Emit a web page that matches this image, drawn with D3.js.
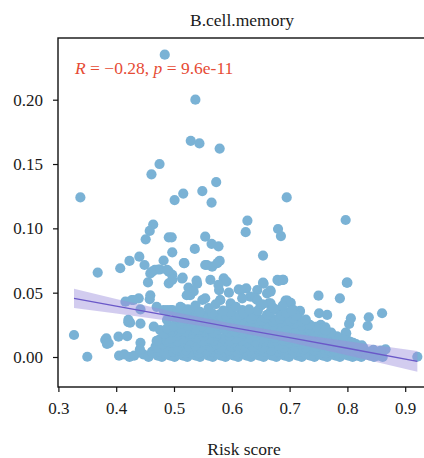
<!DOCTYPE html>
<html>
<head>
<meta charset="utf-8">
<script src="https://cdn.jsdelivr.net/npm/d3@7/dist/d3.min.js"></script>
<style>
  html, body { margin: 0; padding: 0; background: #ffffff; }
  svg { display: block; }
  text { font-family: "Liberation Serif", "DejaVu Serif", serif; fill: #1a1a1a; }
</style>
</head>
<body>
<svg id="chart" width="424" height="458"></svg>
<script>
// Risk score vs. B.cell.memory fraction, one [risk, fraction] pair per sample
const samples = [
  // upper outliers
  [0.484,0.235],[0.537,0.200],[0.529,0.168],[0.544,0.166],[0.579,0.162],[0.475,0.150],
  [0.461,0.142],[0.338,0.124],[0.573,0.136],[0.549,0.129],[0.516,0.127],[0.501,0.122],
  [0.565,0.120],[0.695,0.124],[0.627,0.106],[0.624,0.097],[0.797,0.1065],
  // mid range
  [0.464,0.103],[0.458,0.098],[0.451,0.0915],[0.491,0.093],[0.496,0.093],[0.554,0.0935],
  [0.565,0.088],[0.577,0.086],[0.680,0.0995],[0.685,0.094],[0.440,0.078],[0.423,0.0747],
  [0.407,0.069],[0.368,0.0656],[0.449,0.0715],[0.462,0.0663],[0.473,0.068],[0.482,0.075],
  [0.497,0.0814],[0.491,0.0663],[0.497,0.0638],[0.518,0.0729],[0.536,0.084],[0.554,0.0715],
  [0.566,0.0702],[0.579,0.0747],[0.455,0.058],[0.491,0.0573],[0.515,0.0617],[0.539,0.0593],
  [0.563,0.0599],[0.586,0.0612],[0.591,0.0586],[0.654,0.0788],[0.654,0.0578],[0.681,0.0591],
  [0.688,0.0599],[0.799,0.0578],[0.459,0.048],[0.458,0.0449],[0.525,0.054],[0.528,0.048],
  [0.554,0.0456],[0.578,0.052],[0.595,0.050],[0.612,0.0526],[0.625,0.0534],[0.644,0.052],
  [0.667,0.0508],[0.750,0.0477],[0.787,0.0456],[0.696,0.0438],[0.580,0.0443],[0.427,0.0443],
  [0.439,0.0456],[0.459,0.065],[0.467,0.0677],[0.476,0.068],[0.488,0.0677],[0.517,0.073],
  [0.557,0.0715],[0.575,0.073],[0.497,0.060],[0.514,0.061],[0.534,0.051],[0.540,0.057],
  [0.577,0.056],[0.615,0.052],[0.655,0.057],[0.632,0.0469],[0.661,0.0495],[0.618,0.0456],
  [0.641,0.0456],[0.650,0.040],[0.664,0.0417],[0.699,0.042],[0.702,0.042],[0.598,0.039],
  [0.549,0.0443],[0.522,0.048],[0.514,0.038],[0.497,0.0365],[0.416,0.043],[0.430,0.0443],
  // left side, low values
  [0.327,0.0171],[0.350,0.0002],[0.381,0.0132],[0.384,0.0101],[0.383,0.0145],[0.387,0.0107],
  [0.404,0.0158],[0.419,0.0163],[0.421,0.027],[0.424,0.0267],[0.421,0.0288],[0.442,0.026],
  [0.442,0.011],[0.462,0.0041],[0.465,0.0236],[0.476,0.021],[0.488,0.0288],[0.470,0.039],
  [0.482,0.0365],[0.494,0.0365],[0.505,0.035],[0.442,0.037],[0.488,0.0365],[0.511,0.039],
  // right side, low values
  [0.798,0.0184],[0.800,0.0578],[0.718,0.0358],[0.751,0.034],[0.765,0.0327],[0.806,0.0301],
  [0.837,0.0309],[0.835,0.0241],[0.860,0.034],[0.803,0.0257],[0.751,0.0236],[0.762,0.0231],
  [0.921,0.0002],[0.866,0.006],[0.667,0.0516],[0.679,0.0599],[0.689,0.0599],[0.693,0.0438],
  [0.689,0.0241],[0.715,0.0274],[0.690,0.036],[0.717,0.035],[0.754,0.025],[0.797,0.019],
  [0.684,0.0236],[0.707,0.0365],[0.679,0.0365],[0.696,0.043],[0.713,0.0171],[0.696,0.0132],
  [0.667,0.0145],[0.638,0.0132],[0.586,0.012],[0.546,0.012],[0.511,0.0107],[0.494,0.0158],
  [0.528,0.021],[0.563,0.021],[0.627,0.0223],[0.673,0.025],[0.687,0.030],[0.661,0.0327],
  [0.644,0.031],[0.609,0.0288],[0.592,0.0327],[0.569,0.030],[0.534,0.0327],[0.618,0.0365],
  [0.580,0.0443],[0.598,0.0417],[0.644,0.0443],[0.667,0.0417],
  // bottom row
  [0.405,0.001],[0.414,0.002],[0.423,0.000],[0.431,0.001],[0.447,0.002],[0.456,0.000],
  [0.463,0.003],[0.472,0.001],[0.479,0.000],[0.486,0.002],[0.494,0.001],[0.501,0.000],
  [0.508,0.002],[0.516,0.001],[0.523,0.000],[0.531,0.002],[0.538,0.001],[0.545,0.000],
  [0.553,0.003],[0.560,0.001],[0.567,0.000],[0.575,0.002],[0.582,0.001],[0.589,0.000],
  [0.597,0.002],[0.604,0.001],[0.611,0.000],[0.619,0.003],[0.626,0.001],[0.633,0.000],
  [0.641,0.002],[0.648,0.001],[0.655,0.000],[0.663,0.002],[0.670,0.001],[0.677,0.000],
  [0.685,0.002],[0.692,0.001],[0.699,0.000],[0.707,0.003],[0.714,0.001],[0.721,0.000],
  [0.729,0.002],[0.736,0.001],[0.743,0.000],[0.751,0.002],[0.758,0.001],[0.765,0.000],
  [0.773,0.002],[0.780,0.001],[0.787,0.000],[0.795,0.002],[0.802,0.001],[0.809,0.000],
  [0.817,0.001],[0.824,0.000],[0.832,0.002],[0.839,0.001],[0.846,0.000],[0.853,0.001],
  [0.861,0.000],
  // just above the bottom row
  [0.476,0.004],[0.487,0.003],[0.498,0.004],[0.509,0.005],[0.520,0.003],[0.532,0.004],
  [0.543,0.003],[0.555,0.005],[0.566,0.004],[0.578,0.003],[0.589,0.004],[0.601,0.005],
  [0.612,0.003],[0.624,0.004],[0.635,0.003],[0.647,0.005],[0.658,0.004],[0.670,0.003],
  [0.681,0.004],[0.693,0.005],[0.704,0.003],[0.716,0.004],[0.727,0.003],[0.739,0.005],
  [0.750,0.004],[0.762,0.003],[0.773,0.004],[0.785,0.003],[0.796,0.004],[0.808,0.003],
  [0.820,0.004],[0.835,0.003],[0.850,0.003],[0.845,0.0055],[0.858,0.0050],
  // second layer
  [0.441,0.006],[0.468,0.008],[0.482,0.005],[0.491,0.009],[0.503,0.006],[0.512,0.010],
  [0.521,0.005],[0.530,0.008],[0.541,0.006],[0.549,0.010],[0.558,0.005],[0.567,0.008],
  [0.578,0.006],[0.586,0.009],[0.595,0.005],[0.604,0.008],[0.614,0.006],[0.622,0.010],
  [0.631,0.005],[0.640,0.008],[0.650,0.006],[0.659,0.009],[0.668,0.005],[0.677,0.008],
  [0.687,0.006],[0.696,0.010],[0.705,0.005],[0.714,0.008],[0.724,0.006],[0.733,0.009],
  [0.742,0.005],[0.751,0.008],[0.761,0.006],[0.770,0.009],[0.779,0.005],[0.788,0.007],
  [0.798,0.005],[0.807,0.008],[0.817,0.005],[0.828,0.007],[0.840,0.004],
  [0.472,0.0075],[0.485,0.0080],[0.507,0.0072],[0.526,0.0078],[0.545,0.0070],[0.563,0.0077],
  [0.582,0.0073],[0.600,0.0079],[0.618,0.0071],[0.636,0.0076],[0.654,0.0074],[0.672,0.0080],
  [0.690,0.0072],[0.709,0.0077],[0.728,0.0073],[0.746,0.0078],[0.765,0.0071],[0.784,0.0076],
  [0.803,0.0072],[0.822,0.0070],
  [0.480,0.010],[0.497,0.011],[0.517,0.012],[0.537,0.009],[0.554,0.011],[0.573,0.010],
  [0.591,0.012],[0.609,0.009],[0.627,0.011],[0.645,0.010],[0.663,0.012],[0.682,0.009],
  [0.700,0.011],[0.719,0.010],[0.737,0.012],[0.756,0.009],[0.774,0.011],[0.792,0.010],
  [0.810,0.011],[0.825,0.009],
  // third layer
  [0.476,0.014],[0.488,0.012],[0.500,0.016],[0.511,0.011],[0.522,0.015],[0.533,0.012],
  [0.546,0.017],[0.556,0.013],[0.567,0.016],[0.579,0.012],[0.590,0.015],[0.601,0.011],
  [0.613,0.017],[0.624,0.013],[0.636,0.016],[0.647,0.012],[0.658,0.015],[0.669,0.011],
  [0.681,0.016],[0.692,0.013],[0.703,0.015],[0.715,0.012],[0.727,0.016],[0.739,0.012],
  [0.750,0.014],[0.762,0.011],[0.775,0.015],[0.787,0.012],[0.800,0.013],[0.815,0.010],
  [0.470,0.0125],[0.492,0.0128],[0.506,0.0122],[0.527,0.0127],[0.550,0.0124],[0.569,0.0129],
  [0.596,0.0123],[0.616,0.0126],[0.640,0.0121],[0.655,0.0128],[0.675,0.0124],[0.690,0.0127],
  [0.711,0.0122],[0.730,0.0126],[0.745,0.0123],[0.768,0.0125],[0.783,0.0120],[0.805,0.0118],
  [0.494,0.0145],[0.516,0.0140],[0.539,0.0148],[0.562,0.0142],[0.584,0.0147],[0.607,0.0141],
  [0.630,0.0146],[0.652,0.0143],[0.675,0.0148],[0.697,0.0140],[0.720,0.0145],[0.744,0.0142],
  [0.768,0.0138],[0.792,0.0135],
  [0.505,0.0165],[0.528,0.0168],[0.551,0.0162],[0.574,0.0166],[0.596,0.0163],[0.618,0.0167],
  [0.641,0.0164],[0.663,0.0168],[0.686,0.0162],[0.708,0.0166],[0.731,0.0163],[0.755,0.0160],
  [0.483,0.018],[0.505,0.019],[0.527,0.018],[0.550,0.019],[0.573,0.018],[0.596,0.019],
  [0.619,0.018],[0.642,0.019],[0.664,0.018],[0.686,0.019],[0.709,0.018],[0.732,0.019],
  [0.757,0.017],[0.782,0.016],
  [0.497,0.0195],[0.522,0.0198],[0.546,0.0193],[0.571,0.0197],[0.595,0.0194],[0.620,0.0199],
  [0.645,0.0192],[0.670,0.0196],[0.694,0.0193],[0.719,0.0197],[0.744,0.0190],
  // fourth layer
  [0.494,0.021],[0.507,0.024],[0.519,0.020],[0.531,0.025],[0.543,0.021],[0.556,0.024],
  [0.568,0.019],[0.580,0.023],[0.593,0.026],[0.605,0.020],[0.617,0.024],[0.630,0.021],
  [0.642,0.025],[0.654,0.020],[0.666,0.023],[0.679,0.026],[0.691,0.021],[0.703,0.024],
  [0.716,0.020],[0.728,0.023],[0.741,0.019],[0.756,0.022],[0.772,0.019],
  [0.488,0.0222],[0.513,0.0218],[0.537,0.0225],[0.562,0.0220],[0.587,0.0216],[0.611,0.0224],
  [0.636,0.0219],[0.660,0.0223],[0.685,0.0217],[0.710,0.0221],[0.735,0.0214],[0.762,0.0208],
  [0.500,0.0240],[0.524,0.0243],[0.548,0.0238],[0.573,0.0242],[0.597,0.0239],[0.622,0.0244],
  [0.647,0.0237],[0.671,0.0241],[0.696,0.0238],[0.720,0.0242],[0.745,0.0235],
  [0.512,0.026],[0.535,0.027],[0.560,0.026],[0.584,0.027],[0.609,0.026],[0.634,0.027],
  [0.659,0.026],[0.684,0.027],[0.708,0.026],[0.735,0.025],
  // fifth layer
  [0.522,0.0280],[0.547,0.0283],[0.572,0.0278],[0.597,0.0282],[0.622,0.0279],[0.646,0.0284],
  [0.671,0.0277],[0.695,0.0281],[0.720,0.0276],
  [0.503,0.030],[0.516,0.028],[0.528,0.033],[0.541,0.029],[0.553,0.032],[0.566,0.028],
  [0.578,0.033],[0.590,0.029],[0.603,0.032],[0.615,0.027],[0.628,0.031],[0.640,0.034],
  [0.652,0.028],[0.664,0.032],[0.676,0.029],[0.689,0.033],[0.701,0.028],[0.713,0.031],
  [0.728,0.029],
  [0.510,0.0302],[0.534,0.0298],[0.559,0.0305],[0.584,0.0300],[0.609,0.0304],[0.634,0.0297],
  [0.658,0.0303],[0.683,0.0299],[0.707,0.0301],
  [0.518,0.0325],[0.541,0.0322],[0.566,0.0327],[0.590,0.0321],[0.614,0.0326],[0.638,0.0323],
  [0.662,0.0328],[0.686,0.0320],[0.710,0.0324],
  [0.545,0.035],[0.566,0.034],[0.597,0.035],[0.620,0.034],[0.645,0.036],[0.667,0.035],
  [0.694,0.034],
  // sixth layer
  [0.524,0.037],[0.537,0.040],[0.560,0.038],[0.572,0.041],[0.585,0.036],[0.607,0.039],
  [0.630,0.037],[0.653,0.041],[0.672,0.038],[0.688,0.040],[0.704,0.036]
];

// Linear fit with its 95% confidence band
const fitRisk  = [0.327, 0.400, 0.500, 0.600, 0.700, 0.800, 0.921];
const fitValue = [0.0455, 0.0395, 0.0313, 0.0231, 0.0150, 0.0068, -0.0034];
const fitLower = [0.0380, 0.0339, 0.0276, 0.0202, 0.0114, 0.0013, -0.0114];
const fitUpper = [0.0530, 0.0451, 0.0350, 0.0260, 0.0186, 0.0123, 0.0046];

const xTicks = [0.3, 0.4, 0.5, 0.6, 0.7, 0.8, 0.9];
const yTicks = [0.00, 0.05, 0.10, 0.15, 0.20];

const title = "B.cell.memory";
const xLabel = "Risk score";
const corrR = "−0.28";
const corrP = "9.6e-11";

const serif = '"Liberation Serif", "DejaVu Serif", serif';
const svg = d3.select("#chart");
const panel = { left: 58, top: 38, right: 426, bottom: 387 };

const x = d3.scaleLinear().domain([0.3, 0.9]).range([58.4, 405.2]);
const y = d3.scaleLinear().domain([0, 0.2]).range([357, 99.7]);

svg.append("defs").append("clipPath").attr("id", "panelClip")
  .append("rect")
  .attr("x", panel.left).attr("y", panel.top)
  .attr("width", panel.right - panel.left).attr("height", panel.bottom - panel.top);

const plot = svg.append("g").attr("clip-path", "url(#panelClip)");

// sample points
plot.append("g").selectAll("circle")
  .data(samples)
  .join("circle")
  .attr("cx", d => x(d[0]))
  .attr("cy", d => y(d[1]))
  .attr("r", 5.1)
  .attr("fill", "#7ab2d5");

// confidence band and fitted line
const fit = fitRisk.map((r, i) => ({ r, v: fitValue[i], lo: fitLower[i], hi: fitUpper[i] }));
plot.append("path")
  .datum(fit)
  .attr("d", d3.area().x(d => x(d.r)).y0(d => y(d.lo)).y1(d => y(d.hi)))
  .attr("fill", "#9c8fdc")
  .attr("fill-opacity", 0.45);
plot.append("path")
  .datum(fit)
  .attr("d", d3.line().x(d => x(d.r)).y(d => y(d.v)))
  .attr("fill", "none")
  .attr("stroke", "#6a58c8")
  .attr("stroke-width", 1.3);

// axes
const xAxis = svg.append("g")
  .attr("transform", `translate(0,${panel.bottom})`)
  .call(d3.axisBottom(x).tickValues(xTicks).tickFormat(d3.format(".1f")).tickSize(5).tickPadding(9.5));
const yAxis = svg.append("g")
  .attr("transform", `translate(${panel.left},0)`)
  .call(d3.axisLeft(y).tickValues(yTicks).tickFormat(d3.format(".2f")).tickSize(5).tickPadding(10));

[xAxis, yAxis].forEach(g => {
  g.attr("font-family", serif).attr("font-size", 17);
  g.select(".domain").remove();
  g.selectAll(".tick line").attr("stroke", "#111").attr("stroke-width", 1.2);
  g.selectAll(".tick text")
    .attr("fill", "#1a1a1a")
    .attr("font-family", serif)
    .style("font-family", serif)
    .style("font-size", "17px");
});

// panel frame
svg.append("rect")
  .attr("x", panel.left).attr("y", panel.top)
  .attr("width", panel.right - panel.left).attr("height", panel.bottom - panel.top)
  .attr("fill", "none")
  .attr("stroke", "#111")
  .attr("stroke-width", 1.4);

// title
svg.append("text")
  .attr("x", 242).attr("y", 26)
  .attr("text-anchor", "middle")
  .style("font-size", "17.5px")
  .text(title);

// x-axis label
svg.append("text")
  .attr("x", 244).attr("y", 455)
  .attr("text-anchor", "middle")
  .style("font-size", "17.5px")
  .text(xLabel);

// correlation annotation
const ann = svg.append("text")
  .attr("x", 75).attr("y", 74)
  .style("font-size", "17.5px")
  .style("fill", "#e64b35");
ann.append("tspan").style("font-style", "italic").style("fill", "#e64b35").text("R");
ann.append("tspan").style("fill", "#e64b35").text(` = ${corrR}, `);
ann.append("tspan").style("font-style", "italic").style("fill", "#e64b35").text("p");
ann.append("tspan").style("fill", "#e64b35").text(` = ${corrP}`);
</script>
</body>
</html>
